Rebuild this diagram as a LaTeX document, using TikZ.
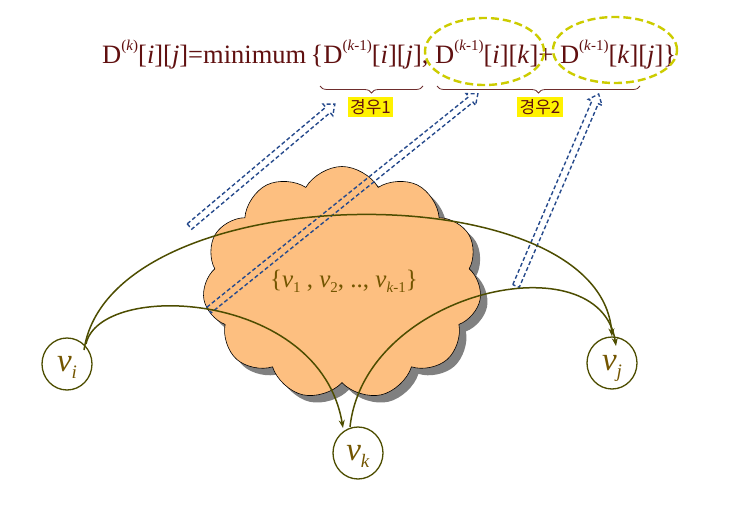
\documentclass[tikz,border=0pt]{standalone}
\usepackage{fontspec}
\setmainfont{Liberation Serif}
\newfontfamily\krfont{Noto Sans CJK KR}
\usetikzlibrary{shapes.symbols,shapes.geometric,shadows,decorations.pathreplacing,arrows.meta}
\definecolor{eqred}{RGB}{96,16,16}
\definecolor{bracecol}{RGB}{110,45,45}
\definecolor{ydash}{RGB}{204,204,0}
\definecolor{bdash}{RGB}{38,74,140}
\definecolor{cloudfill}{RGB}{253,191,128}
\definecolor{olivel}{RGB}{77,77,0}
\definecolor{vtext}{RGB}{115,85,0}
\newcommand{\supk}[1]{\raisebox{13pt}{\fontsize{15}{15}\selectfont #1}}
\newcommand{\vsub}[1]{\textit{v}\smash{\raisebox{-7pt}{\fontsize{19}{19}\selectfont\textit{#1}}}}
\newcommand{\csub}[1]{\textit{v}\raisebox{-5pt}{\fontsize{15}{15}\selectfont #1}}
\tikzset{
  vnode/.style={draw=olivel, line width=1.3pt, ellipse, minimum width=50pt, minimum height=52pt, inner sep=0pt, text=vtext, font=\fontsize{33}{33}\selectfont},
  curve/.style={draw=olivel, line width=1.5pt, -{Stealth[length=8pt,width=6pt]}},
  hollow/.style={draw=bdash, line width=1.4pt, dash pattern=on 4pt off 2.5pt, line join=miter},
  ydashed/.style={draw=ydash, line width=2.4pt, dash pattern=on 8pt off 4pt, ellipse, inner sep=0pt},
  bracestyle/.style={draw=bracecol, line width=0.8pt, decorate, decoration={brace, mirror, amplitude=7pt}},
  caselabel/.style={fill=yellow, text=eqred, inner xsep=2.5pt, inner ysep=2pt, font=\krfont\fontsize{17}{17}\selectfont}
}
\begin{document}
\begin{tikzpicture}[x=1pt,y=-1pt]
\useasboundingbox (0,0) rectangle (732,509);
% cloud
\node[cloud, cloud puffs=11, cloud puff arc=120, cloud ignores aspect, minimum width=279pt, minimum height=233pt, draw=black, line width=0.6pt, fill=cloudfill, drop shadow={shadow xshift=7pt, shadow yshift=-7pt, fill=black!50, opacity=1}] (cloud) at (342,283) {};
\node[text=vtext, font=\fontsize{25}{25}\selectfont, anchor=base] (set) at (344,287) {\{\csub{1} , \csub{2}, .., \textit{v}\raisebox{-5pt}{\fontsize{15}{15}\selectfont\textit{k}-1}\}};
% hollow dashed arrows
\coordinate (a1t) at (189.5,226.5);
\coordinate (a2t) at (209,310);
\coordinate (a3t) at (516,286);
\begin{scope}[shift={(a1t)}, rotate=40.1]
  \draw[hollow] (0,-3.5) -- (181,-3.5) -- (181,-7.5) -- (190,0) -- (181,7.5) -- (181,3.5) -- (0,3.5) -- cycle;
\end{scope}
\begin{scope}[shift={(a2t)}, rotate=38.8]
  \draw[hollow] (0,-3.5) -- (336,-3.5) -- (336,-7.5) -- (345,0) -- (336,7.5) -- (336,3.5) -- (0,3.5) -- cycle;
\end{scope}
\begin{scope}[shift={(a3t)}, rotate=66.7]
  \draw[hollow] (0,-3.5) -- (200,-3.5) -- (200,-7.5) -- (209,0) -- (200,7.5) -- (200,3.5) -- (0,3.5) -- cycle;
\end{scope}
% vertices
\node[vnode] (vi) at (67,364) {\vsub{i}};
\node[vnode] (vj) at (612,363) {\vsub{j}};
\node[vnode] (vk) at (358,453) {\vsub{k}};
% curves
\draw[curve] ([shift={(17,-14)}]vi.center) .. controls (110,175) and (600,170) .. (vj.north);
\draw[curve] ([shift={(19,-20)}]vi.center) .. controls (100,280) and (320,290) .. ([shift={(-15,-25)}]vk.center);
\draw[curve] ([shift={(-8,-26)}]vk.center) .. controls (365,290) and (600,240) .. ([shift={(4,-17)}]vj.center);
% equation
\node[anchor=base west, text=eqred, inner sep=0pt, font=\fontsize{26.5}{30}\selectfont] (eq) at (102,63)
 {D\supk{(\textit{k})}[\textit{i}][\textit{j}]=minimum\,\{D\supk{(\textit{k}-1)}[\textit{i}][\textit{j}], D\supk{(\textit{k}-1)}[\textit{i}][\textit{k}]+ D\supk{(\textit{k}-1)}[\textit{k}][\textit{j}]\}};
\node[ydashed, minimum width=119pt, minimum height=67pt] (e1) at (484.5,51.5) {};
\node[ydashed, minimum width=124pt, minimum height=66pt] (e2) at (615,50) {};
% braces
\coordinate (b1l) at (320,86);
\coordinate (b1r) at (423,86);
\coordinate (b2l) at (437,86);
\coordinate (b2r) at (640,86);
\draw[bracestyle] (b1l) -- (b1r);
\draw[bracestyle] (b2l) -- (b2r);
\node[caselabel] (c1) at (370.5,107) {경우1};
\node[caselabel] (c2) at (540,107) {경우2};
\end{tikzpicture}
\end{document}
